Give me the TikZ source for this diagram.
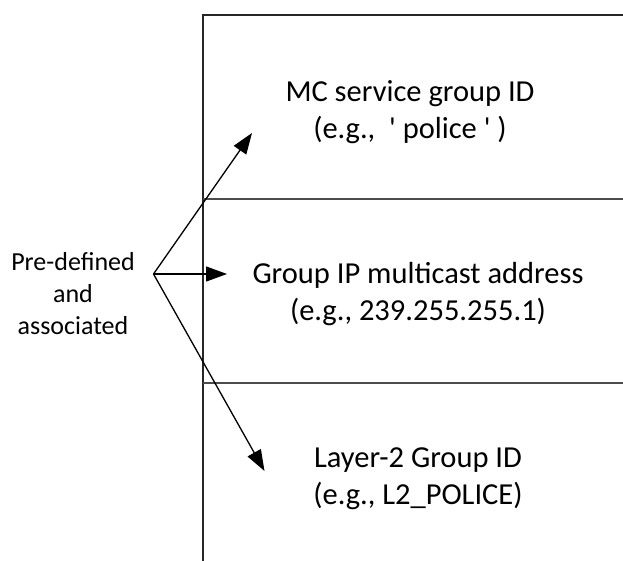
\documentclass[tikz,border=0pt]{standalone}
\usepackage{fontspec}
\setmainfont{Carlito}
\usetikzlibrary{arrows.meta}
\tikzset{
  rowtext/.style={inner sep=0pt, align=center, font=\fontsize{30.5}{36.6}\selectfont},
  lefttext/.style={inner sep=0pt, align=center, font=\fontsize{26}{32}\selectfont},
  frameline/.style={line width=2pt, draw=black!85},
  sepline/.style={line width=2pt, draw=black!70},
  assoc/.style={line width=1.3pt, -{Triangle[length=21pt,width=15pt]}}
}
\begin{document}
\begin{tikzpicture}[x=1pt,y=-1pt]
\useasboundingbox (0,0) rectangle (623,561);
% frame
\coordinate (tl) at (203,15);
\coordinate (tr) at (623,15);
\coordinate (bl) at (203,561);
\coordinate (m1l) at (203,199.5);
\coordinate (m1r) at (623,199.5);
\coordinate (m2l) at (203,383);
\coordinate (m2r) at (623,383);
\draw[frameline] (tr) -- (tl) -- (bl);
\draw[sepline] (m1l) -- (m1r);
\draw[sepline] (m2l) -- (m2r);
% texts
\node[rowtext] (r1) at (410,112) {MC service group ID\\(e.g.,\ \ \textquotesingle\ police \textquotesingle\ )};
\node[rowtext] (r2) at (418,294) {Group IP multicast address\\(e.g., 239.255.255.1)};
\node[rowtext] (r3) at (418,479) {Layer-2 Group ID\\(e.g., L2\_POLICE)};
\node[lefttext] (lt) at (73,294) {Pre-defined\\and\\associated};
% arrows
\coordinate (src) at (153.5,274);
\coordinate (t1) at (252,133);
\coordinate (t2) at (227,274);
\coordinate (t3) at (264.5,471);
\draw[assoc] (src) -- (t1);
\draw[assoc] (src) -- (t2);
\draw[assoc] (src) -- (t3);
\end{tikzpicture}
\end{document}
